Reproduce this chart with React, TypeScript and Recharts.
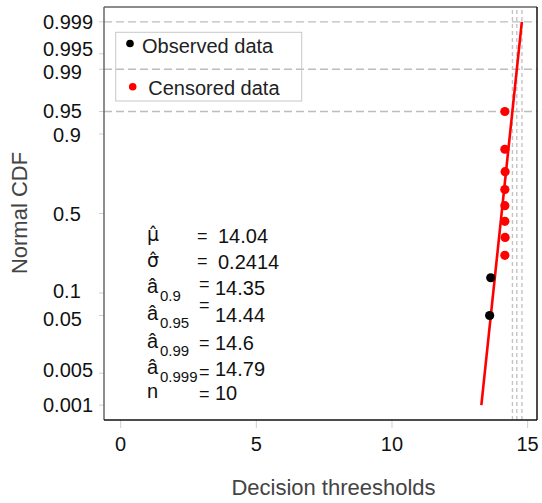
import React from 'react';
import { ComposedChart, XAxis, YAxis, Scatter, Line, ReferenceLine } from 'recharts';

// Fitted normal model and summary numbers
const mu = 14.04;
const sigma = 0.2414;
const sampleSize = 10;
const quantileLevels = ['0.9', '0.95', '0.99', '0.999'];
const quantileValues = [14.35, 14.44, 14.6, 14.79];

// Observed (exact) thresholds and their plotting probabilities
const observedX = [13.6, 13.64];
const observedP = [0.05, 0.15];

// Censored thresholds and their plotting probabilities
const censoredX = [14.16, 14.17, 14.16, 14.16, 14.16, 14.17, 14.16, 14.16];
const censoredP = [0.25, 0.35, 0.45, 0.55, 0.65, 0.75, 0.85, 0.95];

// Axis ticks
const yTickLabels = ['0.001', '0.005', '0.05', '0.1', '0.5', '0.9', '0.95', '0.99', '0.995', '0.999'];
const xTicks = [0, 5, 10, 15];

// Guide lines: upper probabilities and the matching quantile estimates
const guideProbs = [0.95, 0.99, 0.999];
const guideX = [14.44, 14.6, 14.79];

// Probabilities at which the fitted line starts and ends
const fitEndProbs = [0.001, 0.999];

// Inverse standard normal CDF (Acklam's rational approximation)
function qnorm(p: number): number {
  const a = [-3.969683028665376e1, 2.209460984245205e2, -2.759285104469687e2, 1.38357751867269e2, -3.066479806614716e1, 2.506628277459239];
  const b = [-5.447609879822406e1, 1.615858368580409e2, -1.556989798598866e2, 6.680131188771972e1, -1.328068155288572e1];
  const c = [-7.784894002430293e-3, -3.223964580411365e-1, -2.400758277161838, -2.549732539343734, 4.374664141464968, 2.938163982698783];
  const d = [7.784695709041462e-3, 3.224671290700398e-1, 2.445134137142996, 3.754408661907416];
  const pl = 0.02425;
  if (p < pl) {
    const q = Math.sqrt(-2 * Math.log(p));
    return (((((c[0] * q + c[1]) * q + c[2]) * q + c[3]) * q + c[4]) * q + c[5]) / ((((d[0] * q + d[1]) * q + d[2]) * q + d[3]) * q + 1);
  }
  if (p > 1 - pl) {
    const q = Math.sqrt(-2 * Math.log(1 - p));
    return -(((((c[0] * q + c[1]) * q + c[2]) * q + c[3]) * q + c[4]) * q + c[5]) / ((((d[0] * q + d[1]) * q + d[2]) * q + d[3]) * q + 1);
  }
  const q = p - 0.5;
  const r = q * q;
  return (((((a[0] * r + a[1]) * r + a[2]) * r + a[3]) * r + a[4]) * r + a[5]) * q / (((((b[0] * r + b[1]) * r + b[2]) * r + b[3]) * r + b[4]) * r + 1);
}

const observed = observedX.map((x, i) => ({ x, y: qnorm(observedP[i]) }));
const censored = censoredX.map((x, i) => ({ x, y: qnorm(censoredP[i]) }));
const fitLine = fitEndProbs.map((p) => ({ x: mu + sigma * qnorm(p), y: qnorm(p) }));
const yTicks = yTickLabels.map((l) => qnorm(parseFloat(l)));

const FONT = 'Arial, "Liberation Sans", sans-serif';
const W = 542;
const H = 503;
const PLOT = { left: 104, top: 7, right: 537, bottom: 420 };

const labelFor = (v: number) => {
  let best = 0;
  yTicks.forEach((t, i) => {
    if (Math.abs(t - v) < Math.abs(yTicks[best] - v)) best = i;
  });
  return yTickLabels[best];
};

// small vertical nudges that keep crowded probability labels apart
const labelNudge: Record<string, number> = {
  '0.995': -5, '0.99': 2.5, '0.9': 1, '0.1': -1.5, '0.05': 3, '0.005': -3,
};

const YTick = (props: any) => {
  const label = labelFor(props.payload.value);
  const x = label.length > 3 ? 43 : 53;
  return (
    <text x={x} y={props.y + 7 + (labelNudge[label] || 0)} fontSize={20} fill="#111" fontFamily={FONT} textAnchor="start">
      {label}
    </text>
  );
};

const XTick = (props: any) => (
  <text x={props.x} y={451} fontSize={20} fill="#111" fontFamily={FONT} textAnchor="middle">
    {props.payload.value}
  </text>
);

const dot = (color: string) => (props: any) => <circle cx={props.cx} cy={props.cy} r={4.6} fill={color} />;

// Rows of the estimate table: hatted symbol, subscript, value, and row centre
const rows = [
  { sym: 'μ\u0302', greek: true, sub: '', value: mu.toString(), cy: 236, eqX: 197, valX: 218 },
  { sym: 'σ\u0302', greek: true, sub: '', value: sigma.toString(), cy: 261.5, eqX: 197, valX: 218 },
  ...quantileLevels.map((lv, i) => ({
    sym: 'â', greek: false, sub: lv, value: quantileValues[i].toString(),
    cy: [287.5, 315, 342.5, 369][i], eqX: 199, valX: 215,
  })),
  { sym: 'n', greek: false, sub: '', value: sampleSize.toString(), cy: 392.5, eqX: 199, valX: 215 },
];
const eqCentres = [236, 261, 284, 305, 343, 371.5, 394];

export default function App() {
  return (
    <div style={{ position: 'absolute', left: 0, top: 0, width: W, height: H, background: '#fff' }}>
      <ComposedChart
        width={W}
        height={H}
        margin={{ top: PLOT.top, right: W - PLOT.right, bottom: 0, left: 0 }}
      >
        <XAxis
          type="number"
          dataKey="x"
          domain={[-0.615, 15.345]}
          ticks={xTicks}
          interval={0}
          allowDataOverflow
          height={H - PLOT.bottom}
          axisLine={false}
          tickLine={{ stroke: '#cfcfcf' }}
          tickSize={8}
          tick={<XTick />}
        />
        <YAxis
          type="number"
          dataKey="y"
          domain={[-3.33, 3.33]}
          ticks={yTicks}
          interval={0}
          allowDataOverflow
          width={PLOT.left}
          axisLine={false}
          tickLine={{ stroke: '#cfcfcf' }}
          tickSize={5}
          tick={<YTick />}
        />
        {guideProbs.map((p) => (
          <ReferenceLine key={'h' + p} y={qnorm(p)} stroke="#bdbdbd" strokeWidth={1.4} strokeDasharray="8 4" />
        ))}
        {guideX.map((x) => (
          <ReferenceLine key={'v' + x} x={x} stroke="#c4c4c4" strokeWidth={1.4} strokeDasharray="4 3" />
        ))}
        <Line
          data={fitLine}
          dataKey="y"
          type="linear"
          stroke="#ff0000"
          strokeWidth={2.6}
          dot={false}
          activeDot={false}
          isAnimationActive={false}
        />
        <Scatter data={observed} dataKey="y" fill="#000" shape={dot('#000')} isAnimationActive={false} />
        <Scatter data={censored} dataKey="y" fill="#ff0000" shape={dot('#ff0000')} isAnimationActive={false} />
      </ComposedChart>
      <svg
        width={W}
        height={H}
        style={{ position: 'absolute', left: 0, top: 0, pointerEvents: 'none' }}
        fontFamily={FONT}
      >
        {/* plot frame */}
        <line x1={PLOT.left} y1={PLOT.top} x2={PLOT.right} y2={PLOT.top} stroke="#666" strokeWidth={1.5} />
        <line x1={PLOT.left} y1={PLOT.top} x2={PLOT.left} y2={PLOT.bottom} stroke="#666" strokeWidth={1.5} />
        <line x1={PLOT.left} y1={PLOT.bottom} x2={PLOT.right} y2={PLOT.bottom} stroke="#111" strokeWidth={1.5} />
        <line x1={PLOT.right} y1={PLOT.top} x2={PLOT.right} y2={PLOT.bottom} stroke="#111" strokeWidth={1.5} />

        {/* legend */}
        <rect x={115.7} y={32.3} width={186} height={68.7} fill="none" stroke="#c8c8c8" strokeWidth={1} />
        <circle cx={130} cy={43.5} r={3.8} fill="#000" />
        <text x={142} y={53} fontSize={20} fill="#222">Observed data</text>
        <circle cx={132.7} cy={86.7} r={3.8} fill="#ff0000" />
        <text x={148.3} y={95} fontSize={20} fill="#222">Censored data</text>

        {/* estimate table: hatted symbol with subscript, equals sign, value */}
        {rows.map((r, i) => (
          <g key={i}>
            <text fontSize={20} fill="#111">
              <tspan
                x={147}
                y={r.cy + 5.2}
                fontFamily={r.greek ? '"DejaVu Sans", sans-serif' : FONT}
                fontSize={r.greek ? 19 : 20}
              >
                {r.sym}
              </tspan>
              {r.sub && (
                <tspan x={160} y={r.cy + 13} fontSize={15}>{r.sub}</tspan>
              )}
            </text>
            <text x={r.eqX} y={eqCentres[i] + 6} fontSize={18} fill="#111">=</text>
            <text x={r.valX} y={r.cy + 7.2} fontSize={20} fill="#111">{r.value}</text>
          </g>
        ))}

        {/* axis titles */}
        <text x={333.5} y={495} fontSize={22} fill="#444" textAnchor="middle">Decision threesholds</text>
        <text x={27} y={213} fontSize={22} fill="#444" textAnchor="middle" transform="rotate(-90, 27, 213)">
          Normal CDF
        </text>
      </svg>
    </div>
  );
}
